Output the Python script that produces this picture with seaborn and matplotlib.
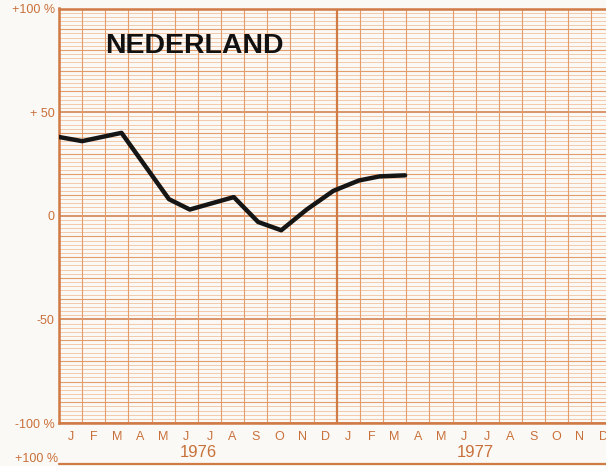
import numpy as np
import pandas as pd
import matplotlib
matplotlib.use("Agg")
import matplotlib.pyplot as plt
from matplotlib.lines import Line2D
import seaborn as sns

# Month position (0 = start of January 1976) and change in percent
month_pos = [0.0, 1.0, 2.7, 4.75, 5.65, 7.55, 8.6, 9.6, 10.7, 11.85, 12.95, 13.85, 14.95]
change_pct = [38, 36, 40, 8, 3, 9, -3, -7, 3, 12, 17, 19, 19.5]

month_labels = ["J", "F", "M", "A", "M", "J", "J", "A", "S", "O", "N", "D"] * 2
year_labels = ["1976", "1977"]
y_tick_values = [100, 50, 0, -50, -100]
y_tick_labels = ["+100 %", "+ 50", "0", "-50", "-100 %"]

title = "NEDERLAND"

paper = "#fbf9f5"
ink = "#c8703a"
grid_fine = "#f3c19e"
grid_mid = "#e49c6a"
grid_strong = "#d07a45"

sns.set_style("white")
plt.rcParams["font.family"] = ["Liberation Sans", "DejaVu Sans"]

fig = plt.figure(figsize=(6.06, 4.66), dpi=100, facecolor=paper)
ax = fig.add_axes([59 / 606, 43 / 466, 555.6 / 606, 414.5 / 466])
ax.set_facecolor(paper)

n_months = len(month_labels)
ax.set_xlim(0, n_months)
ax.set_ylim(-100, 100)

# graph-paper grid
for v in np.arange(-100, 101, 2):
    if v % 50 == 0:
        ax.axhline(v, color=grid_strong, lw=1.1, zorder=1)
    elif v % 10 == 0:
        ax.axhline(v, color=grid_mid, lw=0.8, zorder=1)
    else:
        ax.axhline(v, color=grid_fine, lw=0.6, zorder=0.5)
for m in range(n_months + 1):
    if m % 12 == 0:
        ax.axvline(m, color=grid_strong, lw=1.6, zorder=1.2)
    else:
        ax.axvline(m, color=grid_mid, lw=0.8, zorder=1.2)

for side in ["left", "top", "bottom"]:
    ax.spines[side].set_color(grid_strong)
    ax.spines[side].set_linewidth(1.8)
ax.spines["right"].set_visible(False)

df = pd.DataFrame({"month": month_pos, "pct": change_pct})
sns.lineplot(data=df, x="month", y="pct", ax=ax, color="#151515", lw=3.2,
             sort=False, zorder=5, solid_joinstyle="round", solid_capstyle="round")
ax.set_xlabel("")
ax.set_ylabel("")

ax.set_yticks(y_tick_values)
ax.set_yticklabels(y_tick_labels, color=ink, fontsize=9)
ax.set_xticks(np.arange(n_months) + 0.5)
ax.set_xticklabels(month_labels, color=ink, fontsize=9)
ax.tick_params(axis="both", length=0)
ax.tick_params(axis="x", pad=6)
ax.tick_params(axis="y", pad=3)

trans = ax.get_xaxis_transform()
for i, yr in enumerate(year_labels):
    ax.text(6 + 12 * i, -0.07, yr, transform=trans, ha="center", va="center",
            color=ink, fontsize=12)

ax.text(2.0, 82, title, ha="left", va="center", fontsize=20.5,
        fontweight="bold", color="#111111", zorder=6)

# top of the next panel below
fig.text(58 / 606, 1 / 466, "+100 %", ha="right", va="bottom",
         color=ink, fontsize=9)
fig.add_artist(Line2D([59 / 606, 1], [1 - 464 / 466, 1 - 464 / 466],
                      color=grid_strong, lw=1.6, transform=fig.transFigure))

fig.savefig("out.png", dpi=100, facecolor=paper)
